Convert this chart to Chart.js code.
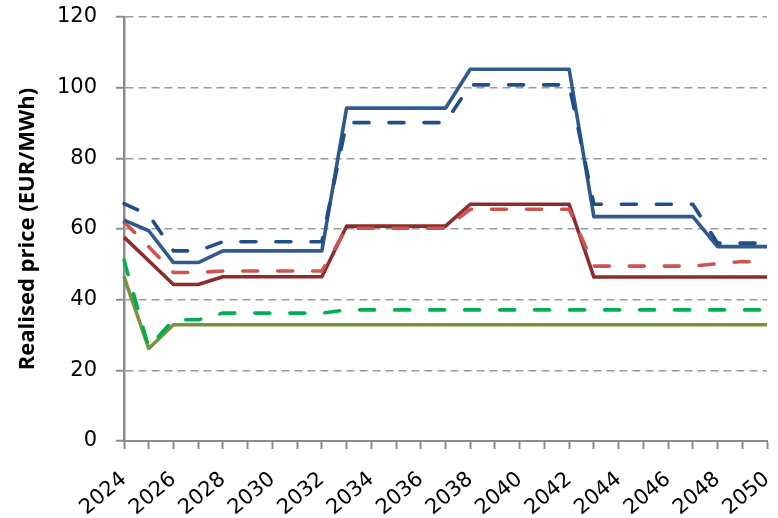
<!DOCTYPE html>
<html>
<head>
<meta charset="utf-8">
<script src="https://cdn.jsdelivr.net/npm/chart.js@4/dist/chart.umd.min.js"></script>
<style>
  html, body { margin: 0; padding: 0; background: #ffffff; }
  #wrap { width: 778px; height: 518px; position: relative; }
</style>
</head>
<body>
<div id="wrap"><canvas id="chart"></canvas></div>
<script>
// Years on the horizontal axis
const years = [2024, 2025, 2026, 2027, 2028, 2029, 2030, 2031, 2032, 2033, 2034, 2035, 2036, 2037,
               2038, 2039, 2040, 2041, 2042, 2043, 2044, 2045, 2046, 2047, 2048, 2049, 2050];

// Realised price series (EUR/MWh)
const blueSolid   = [62.5, 59.5, 50.5, 50.5, 53.8, 53.8, 53.8, 53.8, 53.8, 94.2, 94.2, 94.2, 94.2, 94.2,
                     105.2, 105.2, 105.2, 105.2, 105.2, 63.5, 63.5, 63.5, 63.5, 63.5, 55.0, 55.0, 55.0];
const blueDashed  = [67.2, 64.0, 53.8, 53.8, 56.4, 56.4, 56.4, 56.4, 56.4, 90.1, 90.1, 90.1, 90.1, 90.1,
                     100.8, 100.8, 100.8, 100.8, 100.8, 67.0, 67.0, 67.0, 67.0, 67.0, 56.0, 56.0, 56.0];
const redSolid    = [57.7, 51.0, 44.3, 44.3, 46.5, 46.5, 46.5, 46.5, 46.5, 60.8, 60.8, 60.8, 60.8, 60.8,
                     67.0, 67.0, 67.0, 67.0, 67.0, 46.4, 46.4, 46.4, 46.4, 46.4, 46.4, 46.4, 46.4];
const redDashed   = [62.0, 55.0, 47.7, 47.7, 48.1, 48.1, 48.1, 48.1, 48.1, 60.2, 60.2, 60.2, 60.2, 60.2,
                     65.6, 65.6, 65.6, 65.6, 65.6, 49.5, 49.5, 49.5, 49.5, 49.5, 50.2, 50.8, 50.6];
const greenSolid  = [46.5, 26.2, 32.9, 32.9, 32.9, 32.9, 32.9, 32.9, 32.9, 32.9, 32.9, 32.9, 32.9, 32.9,
                     32.9, 32.9, 32.9, 32.9, 32.9, 32.9, 32.9, 32.9, 32.9, 32.9, 32.9, 32.9, 32.9];
const greenDashed = [51.2, 26.5, 34.3, 34.3, 36.2, 36.2, 36.2, 36.2, 36.2, 37.1, 37.1, 37.1, 37.1, 37.1,
                     37.1, 37.1, 37.1, 37.1, 37.1, 37.1, 37.1, 37.1, 37.1, 37.1, 37.1, 37.1, 37.1];

// Axis range and tick settings
const yMin = 0, yMax = 120, yStep = 20;
const axisTitle = 'Realised price (EUR/MWh)';

const DASH = [15, 20];
const LINE_W = 3.6;

function series(data, color, dashed) {
  return {
    data: data,
    borderColor: color,
    backgroundColor: color,
    borderWidth: LINE_W,
    borderDash: dashed ? DASH : [],
    borderCapStyle: dashed ? 'round' : 'butt',
    borderJoinStyle: 'round',
    pointRadius: 0,
    pointHoverRadius: 0,
    tension: 0,
    fill: false
  };
}

// First dataset is drawn on top
const datasets = [
  series(blueDashed,  '#1f4e89', true),
  series(blueSolid,   '#30598e', false),
  series(redDashed,   '#cc5552', true),
  series(redSolid,    '#8c2c2b', false),
  series(greenDashed, '#00b050', true),
  series(greenSolid,  '#77933c', false)
];

const gridGrey = '#9a9a9a';
const axisGrey = '#8c8c8c';

new Chart(document.getElementById('chart'), {
  type: 'line',
  data: { labels: years, datasets: datasets },
  options: {
    responsive: true,
    maintainAspectRatio: false,
    animation: false,
    events: [],
    layout: { padding: { top: 17, right: 11, left: 0, bottom: 0 } },
    plugins: {
      legend: { display: false },
      tooltip: { enabled: false },
      title: { display: false }
    },
    scales: {
      x: {
        type: 'category',
        offset: false,
        afterFit: (s) => { s.height = 77; s.paddingLeft = 0; s.paddingRight = 0; },
        border: { display: true, color: axisGrey, width: 2 },
        grid: {
          display: true,
          drawOnChartArea: false,
          drawTicks: true,
          tickLength: 8,
          tickColor: axisGrey,
          tickWidth: 2
        },
        ticks: {
          autoSkip: false,
          minRotation: 40,
          maxRotation: 40,
          padding: 18,
          color: '#000000',
          font: { family: 'DejaVu Sans', size: 21 },
          callback: function (v, i) {
            const y = years[i];
            return (y - years[0]) % 2 === 0 ? String(y) : '';
          }
        }
      },
      y: {
        type: 'linear',
        min: yMin,
        max: yMax,
        afterFit: (s) => { s.width = 124; s.paddingTop = 0; s.paddingBottom = 0; },
        border: { display: true, color: axisGrey, width: 2.5, dash: [8, 5] },
        grid: {
          display: true,
          drawOnChartArea: true,
          color: gridGrey,
          lineWidth: 1.5,
          drawTicks: true,
          tickLength: 8,
          tickColor: axisGrey,
          tickWidth: 2,
          tickBorderDash: []
        },
        ticks: {
          stepSize: yStep,
          padding: 19,
          color: '#000000',
          font: { family: 'DejaVu Sans', size: 21 }
        },
        title: {
          display: true,
          text: axisTitle,
          color: '#000000',
          font: { family: 'Open Sans', size: 22, weight: 'bold' },
          padding: { top: 15, bottom: 0 }
        }
      }
    }
  }
});
</script>
</body>
</html>
